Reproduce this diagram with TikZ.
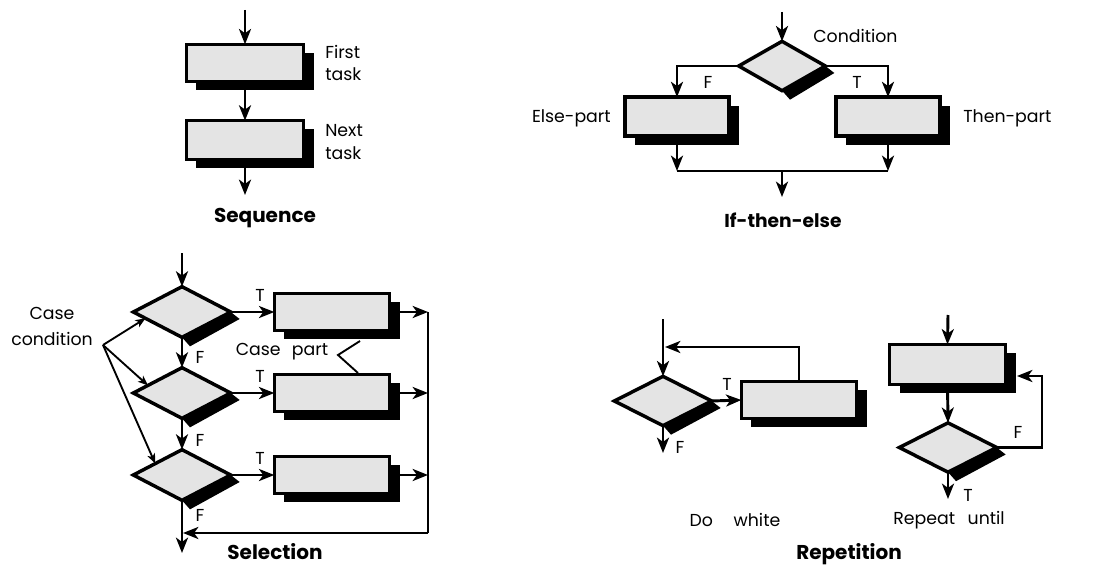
\documentclass[tikz,border=0pt]{standalone}
\usepackage{fontspec}
\setmainfont{Poppins}
\usetikzlibrary{arrows.meta,shapes.geometric,shadows,calc}
\definecolor{boxgray}{RGB}{228,228,228}
\begin{document}
\begin{tikzpicture}[x=0.75pt,y=-0.75pt,
  tbox/.style={draw, line width=2.6pt, fill=boxgray, rectangle, inner sep=0pt, outer sep=0pt,
    general shadow={fill=black, shadow xshift=7.5pt, shadow yshift=-6.5pt}},
  dia/.style={draw, line width=2.6pt, fill=boxgray, diamond, inner sep=0pt, outer sep=0pt},
  conn/.style={line width=2.2pt},
  arr/.style={conn, -{Stealth[length=11.5pt,width=9pt,inset=3.2pt]}},
  thinarr/.style={line width=1.4pt, -{Stealth[length=7.5pt,width=6pt,inset=2pt]}},
  thinline/.style={line width=1.4pt},
  lbl/.style={inner sep=0pt, font=\fontsize{13}{17}\selectfont},
  title/.style={inner sep=0pt, font=\bfseries\fontsize{15}{18}\selectfont}
]
\useasboundingbox (0,0) rectangle (1098,567);

% ---------------- Sequence ----------------
\node[tbox, minimum width=88pt, minimum height=28pt] (s1) at (245,63) {};
\node[tbox, minimum width=88pt, minimum height=29pt] (s2) at (245,140) {};
\coordinate (sin) at (245,10);
\coordinate (sout) at (245,195);
\draw[arr] (sin) -- (s1.north);
\draw[arr] (s1.south) -- (s2.north);
\draw[arr] (s2.south) -- (sout);
\node[lbl, anchor=west, align=left] (t1) at (325,63) {First\\task};
\node[lbl, anchor=west, align=left] (t2) at (325,142) {Next\\task};
\node[title] (seqt) at (265,218) {Sequence};

% ---------------- If-then-else ----------------
\node[dia, minimum width=65pt, minimum height=37pt] (c) at (782,66) {};
\node[tbox, minimum width=78pt, minimum height=29pt] (eb) at (677,116.5) {};
\node[tbox, minimum width=78pt, minimum height=29pt] (tb) at (888,116.5) {};
\coordinate (cin) at (782,12);
\coordinate (jl) at (677,171);
\coordinate (jr) at (888,171);
\coordinate (jm) at (782,171);
\coordinate (cout) at (782,197);
\draw[arr] (cin) -- (c.north);
\draw[arr] (c.west) -| (eb.north);
\draw[arr] (c.east) -| (tb.north);
\draw[arr] (eb.south) -- (jl);
\draw[arr] (tb.south) -- (jr);
\draw[conn] (jl) -- (jr);
\draw[arr] (jm) -- (cout);
\node[lbl] (lf) at (708,82) {F};
\node[lbl] (lt) at (857,82) {T};
\node[lbl, anchor=west] (lcond) at (813,36) {Condition};
\node[lbl, anchor=east] (lelse) at (611,118) {Else-part};
\node[lbl, anchor=west] (lthen) at (963,118) {Then-part};
\node[title, font=\bfseries\fontsize{14}{18}\selectfont] (ifte) at (783,220) {If-then-else};

% ---------------- Selection ----------------
\node[dia, minimum width=73pt, minimum height=38pt] (d1) at (182,312) {};
\node[dia, minimum width=73pt, minimum height=38pt] (d2) at (182,393) {};
\node[dia, minimum width=73pt, minimum height=38pt] (d3) at (182,475) {};
\node[tbox, minimum width=86.5pt, minimum height=28pt] (b1) at (332,312) {};
\node[tbox, minimum width=86.5pt, minimum height=28pt] (b2) at (332,393) {};
\node[tbox, minimum width=86.5pt, minimum height=28pt] (b3) at (332,475) {};
\coordinate (selin) at (182,253);
\coordinate (selout) at (182,553);
\coordinate (r1) at (428,312);
\coordinate (r2) at (428,393);
\coordinate (r3) at (428,475);
\coordinate (r4) at (428,533);
\coordinate (r5) at (183,533);
\draw[arr] (selin) -- (d1.north);
\draw[arr] (d1.south) -- (d2.north);
\draw[arr] (d2.south) -- (d3.north);
\draw[arr] (d3.south) -- (selout);
\draw[arr] (d1.east) -- (b1.west);
\draw[arr] (d2.east) -- (b2.west);
\draw[arr] (d3.east) -- (b3.west);
\draw[arr] (b1.east) -- (r1);
\draw[arr] (b2.east) -- (r2);
\draw[arr] (b3.east) -- (r3);
\draw[conn] (r1) -- (r4);
\draw[arr] (r4) -- (r5);
\node[lbl] (st1) at (260,295) {T};
\node[lbl] (st2) at (260,376) {T};
\node[lbl] (st3) at (260,458) {T};
\node[lbl] (sf1) at (200,357) {F};
\node[lbl] (sf2) at (200,440) {F};
\node[lbl] (sf3) at (200,515) {F};
\node[lbl, align=center, font=\fontsize{13}{19.5}\selectfont] (cc) at (52,326) {Case\\condition};
\coordinate (cp) at (103,345);
\draw[thinarr] (cp) -- ($(d1.west)!0.25!(d1.south)$);
\draw[thinarr] (cp) -- ($(d2.west)!0.3!(d2.north)$);
\draw[thinarr] (cp) -- ($(d3.west)!0.45!(d3.north)$);
\node[lbl] (cpart) at (282,352) {Case\hspace{5pt} part};
\coordinate (zz1) at (360,341);
\coordinate (zz2) at (338,355);
\coordinate (zz3) at (358,373);
\draw[thinline] (zz1) -- (zz2) -- (zz3);
\node[title] (selt) at (275,552) {Selection};

% ---------------- Repetition: do while ----------------
\node[dia, minimum width=73pt, minimum height=37pt] (wd) at (663,401) {};
\node[tbox, minimum width=86.5pt, minimum height=28pt] (wb) at (799,400) {};
\coordinate (win) at (663,319);
\coordinate (wout) at (663,453);
\coordinate (wret) at (665,347);
\draw[arr] (win) -- (wd.north);
\draw[arr] (wd.east) -- (wb.west);
\draw[arr] (wd.south) -- (wout);
\draw[arr] (wb.north) |- (wret);
\node[lbl] (wt) at (727,384) {T};
\node[lbl] (wf) at (680,447) {F};
\node[lbl] (dw) at (735,520) {Do\hspace{12pt} white};

% ---------------- Repetition: repeat until ----------------
\node[tbox, minimum width=87pt, minimum height=30pt] (ub) at (947.5,364.5) {};
\node[dia, minimum width=73pt, minimum height=37pt] (ud) at (948,447.5) {};
\coordinate (uin) at (948,315);
\coordinate (uout) at (948,499);
\coordinate (uf1) at (1042,447.5);
\coordinate (uf2) at (1042,376);
\coordinate (uf3) at (1017,376);
\draw[arr] (uin) -- (ub.north);
\draw[arr] (ub.south) -- (ud.north);
\draw[arr] (ud.south) -- (uout);
\draw[arr] (ud.east) -- (uf1) -- (uf2) -- (uf3);
\node[lbl] (uf) at (1018,432) {F};
\node[lbl] (ut) at (968,495) {T};
\node[lbl] (ru) at (949,520) {Repeat\hspace{6pt} until};
\node[title] (rept) at (849,554) {Repetition};

% ---------------- diamond shadows (band along lower-right edge) ----------------
\foreach \d in {c,d1,d2,d3,wd,ud}{
  \fill (\d.east) -- ([shift={(9,7)}]\d.east) -- ([shift={(8,9)}]\d.south) -- (\d.south) -- cycle;
}
\end{tikzpicture}
\end{document}
